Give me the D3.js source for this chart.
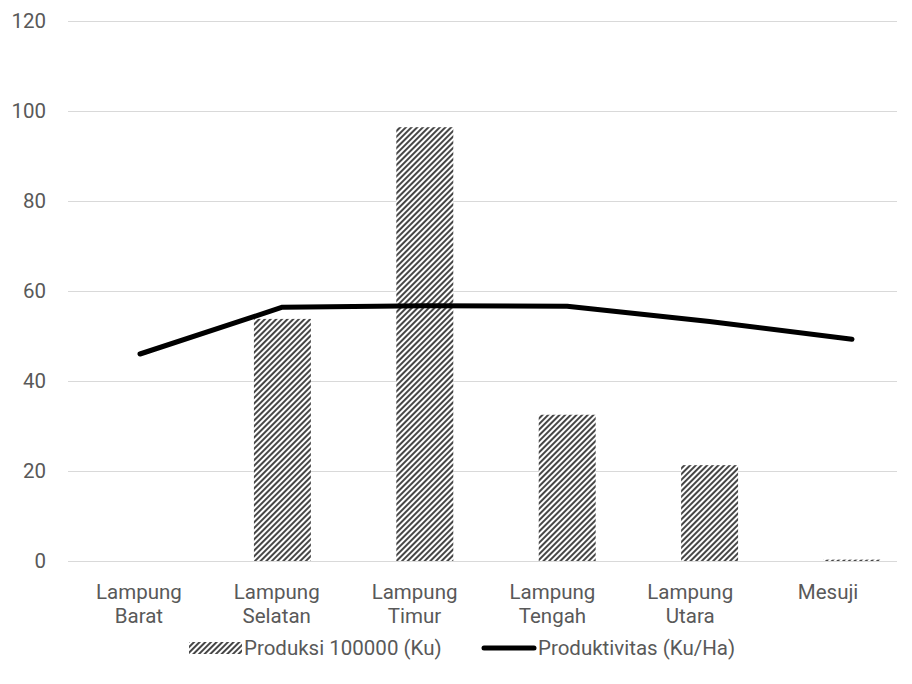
<!DOCTYPE html>
<html>
<head>
<meta charset="utf-8">
<script src="https://cdn.jsdelivr.net/npm/d3@7"></script>
<style>
  body { margin: 0; background: #fff; }
  svg { display: block; }
  text { font-family: Roboto, "Open Sans", sans-serif; fill: #595959; }
</style>
</head>
<body>
<svg id="chart" width="912" height="684"></svg>
<script>
const categories = [["Lampung", "Barat"], ["Lampung", "Selatan"], ["Lampung", "Timur"], ["Lampung", "Tengah"], ["Lampung", "Utara"], ["Mesuji"]];
const produksi = [0, 53.8, 96.4, 32.5, 21.3, 0.3];
const produktivitas = [46, 56.4, 56.7, 56.6, 53.2, 49.3];
const yTicks = [0, 20, 40, 60, 80, 100, 120];
const seriesNames = ["Produksi 100000 (Ku)", "Produktivitas (Ku/Ha)"];

const svg = d3.select("#chart");
const W = 912, H = 684;
const plot = { left: 68, right: 897, top: 21, bottom: 561 };
const FS = "20.5px";

const defs = svg.append("defs");
const pat = defs.append("pattern")
  .attr("id", "diag")
  .attr("patternUnits", "userSpaceOnUse")
  .attr("width", 4).attr("height", 4)
  .attr("patternTransform", "rotate(45)");
pat.append("rect").attr("width", 4).attr("height", 4).attr("fill", "#fff");
pat.append("line").attr("x1", 1).attr("y1", -1).attr("x2", 1).attr("y2", 5)
  .attr("stroke", "#000").attr("stroke-width", 1.45);

// scale for marks (bars + line)
const x = d3.scaleBand()
  .domain(categories.map((c, i) => i))
  .range([68.8, 923.2])
  .paddingInner(0.6).paddingOuter(0.3);
// scale for category labels
const xl = d3.scaleBand()
  .domain(categories.map((c, i) => i))
  .range([plot.left + 2, plot.right]);
const y = d3.scaleLinear().domain([0, 120]).range([plot.bottom, plot.top]);

// gridlines
svg.append("g").selectAll("line").data(yTicks).join("line")
  .attr("x1", plot.left).attr("x2", plot.right)
  .attr("y1", d => Math.round(y(d)) + 0.5).attr("y2", d => Math.round(y(d)) + 0.5)
  .attr("stroke", "#d9d9d9").attr("stroke-width", 1);

// y axis labels
const yAxis = d3.axisLeft(y).tickValues(yTicks).tickSize(0).tickPadding(0);
const yg = svg.append("g").attr("transform", `translate(46,0)`).call(yAxis);
yg.select(".domain").remove();
yg.selectAll("text").style("font-size", FS).attr("fill", "#595959")
  .style("font-family", "Roboto, sans-serif");

// bars
svg.append("g").selectAll("rect").data(produksi).join("rect")
  .attr("x", (d, i) => x(i))
  .attr("width", x.bandwidth())
  .attr("y", d => y(d))
  .attr("height", d => y(0) - y(d))
  .attr("fill", "url(#diag)");

// line
const cx = i => x(i) + x.bandwidth() / 2;
svg.append("path").datum(produktivitas)
  .attr("fill", "none").attr("stroke", "#000").attr("stroke-width", 5)
  .attr("stroke-linecap", "round").attr("stroke-linejoin", "round")
  .attr("d", d3.line().x((d, i) => cx(i)).y(d => y(d)));

// x axis labels
const xg = svg.append("g");
categories.forEach((c, i) => {
  const lx = xl(i) + xl.bandwidth() / 2;
  c.forEach((s, j) => xg.append("text").attr("text-anchor", "middle")
    .attr("x", lx).attr("y", y(0) + 38 + j * 23.5).style("font-size", FS).text(s));
});

// legend
const lg = svg.append("g").attr("transform", "translate(0,648)");
lg.append("rect").attr("x", 189).attr("y", -6).attr("width", 53).attr("height", 12).attr("fill", "url(#diag)");
lg.append("text").attr("x", 244).attr("y", 7).style("font-size", FS).text(seriesNames[0]);
lg.append("line").attr("x1", 484).attr("x2", 534).attr("y1", 0).attr("y2", 0)
  .attr("stroke", "#000").attr("stroke-width", 5).attr("stroke-linecap", "round");
lg.append("text").attr("x", 538).attr("y", 7).style("font-size", FS).text(seriesNames[1]);
</script>
</body>
</html>
